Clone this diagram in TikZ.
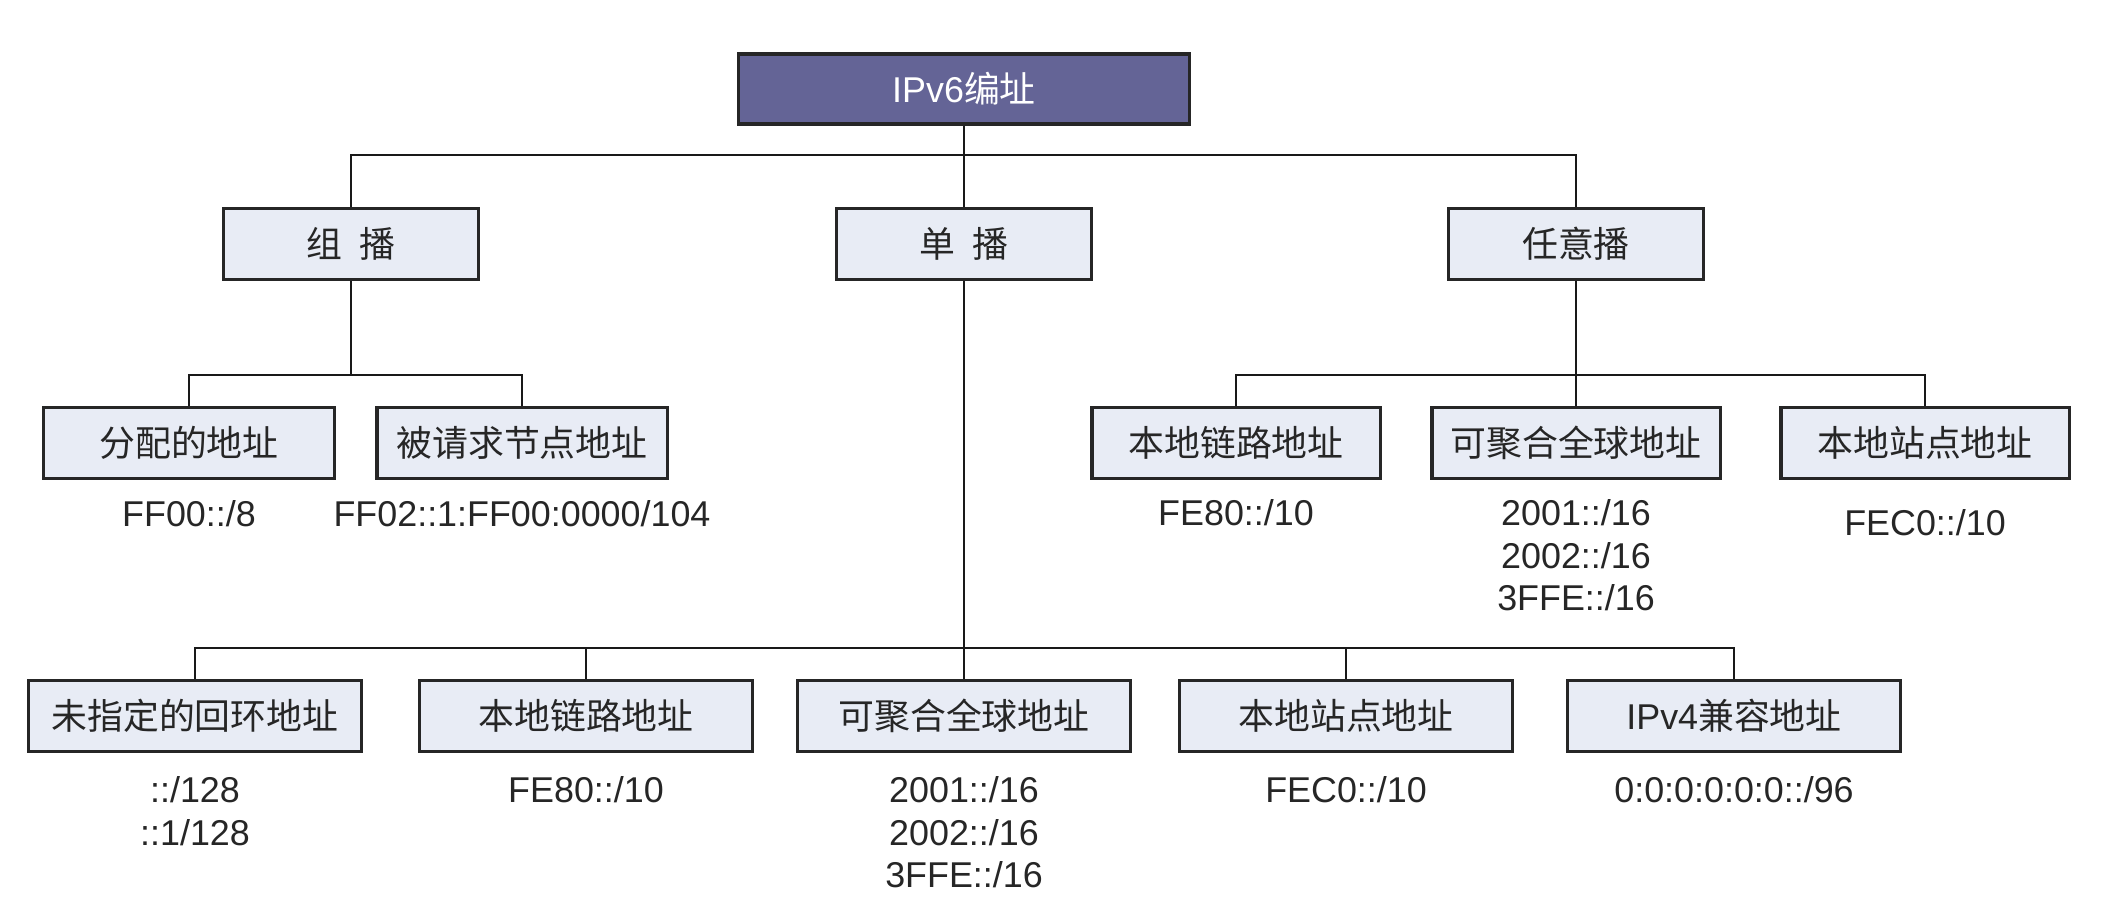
\documentclass[tikz,border=0pt]{standalone}
\usepackage{fontspec}
\setmainfont{Liberation Sans}
\newfontfamily\cjk{Noto Sans CJK SC}
\usepackage{tikz}
\usetikzlibrary{positioning}
\definecolor{v6purple}{HTML}{646496}
\definecolor{v6pale}{HTML}{E8ECF5}
\tikzset{
  v6root/.style={draw=black!85, fill=v6purple, text=white, line width=0.9pt,
    minimum width=4.5cm, minimum height=0.7cm, inner sep=0pt,
    font=\cjk\fontsize{10.2pt}{12pt}\selectfont},
  v6box/.style={draw=black!85, fill=v6pale, text=black!85, line width=0.9pt,
    minimum height=0.71cm, inner sep=0pt,
    font=\cjk\fontsize{10.2pt}{12pt}\selectfont},
  v6addr/.style={font=\fontsize{10.2pt}{12pt}\selectfont, align=center,
    inner sep=0pt, text=black!85},
  v6line/.style={line width=0.7pt, draw=black!90}
}

\begin{document}
\begin{tikzpicture}[x=0.01cm, y=-0.01cm, node distance=0.2cm]
  \useasboundingbox (0,0) rectangle (2114,918);
  \node[v6root] (ipv6) at (964,89) {{\rmfamily IPv6}编址};
  \node[v6box, minimum width=2.55cm] (multi) at (351,244) {组\enspace 播};
  \node[v6box, minimum width=2.55cm] (uni) at (964,244) {单\enspace 播};
  \node[v6box, minimum width=2.55cm] (any) at (1576,244) {任意播};

  \node[v6box, minimum width=2.9cm] (mcassign) at (189,443) {分配的地址};
  \node[v6box, minimum width=2.9cm] (mcsolicit) at (522,443) {被请求节点地址};
  \node[v6box, minimum width=2.88cm] (aclink) at (1236,443) {本地链路地址};
  \node[v6box, minimum width=2.88cm] (acglobal) at (1576,443) {可聚合全球地址};
  \node[v6box, minimum width=2.88cm] (acsite) at (1925,443) {本地站点地址};

  \node[v6box, minimum width=3.32cm] (ucunspec) at (195,716) {未指定的回环地址};
  \node[v6box, minimum width=3.32cm] (uclink) at (586,716) {本地链路地址};
  \node[v6box, minimum width=3.32cm] (ucglobal) at (964,716) {可聚合全球地址};
  \node[v6box, minimum width=3.32cm] (ucsite) at (1346,716) {本地站点地址};
  \node[v6box, minimum width=3.32cm] (ucv4) at (1734,716) {{\rmfamily IPv4}兼容地址};

  \node[v6addr, below=0.2cm of mcassign] (mcassignpfx) {FF00::/8};
  \node[v6addr, below=0.2cm of mcsolicit] (mcsolicitpfx) {FF02::1:FF00:0000/104};
  \node[v6addr, below=0.19cm of aclink] (aclinkpfx) {FE80::/10};
  \node[v6addr, below=0.19cm of acglobal] (acglobalpfx) {2001::/16\\2002::/16\\3FFE::/16};
  \node[v6addr, below=0.29cm of acsite] (acsitepfx) {FEC0::/10};

  \node[v6addr, below=0.23cm of ucunspec] (ucunspecpfx) {::/128\\::1/128};
  \node[v6addr, below=0.23cm of uclink] (uclinkpfx) {FE80::/10};
  \node[v6addr, below=0.23cm of ucglobal] (ucglobalpfx) {2001::/16\\2002::/16\\3FFE::/16};
  \node[v6addr, below=0.23cm of ucsite] (ucsitepfx) {FEC0::/10};
  \node[v6addr, below=0.23cm of ucv4] (ucv4pfx) {0:0:0:0:0:0::/96};

  \coordinate (bus0) at (0,155);
  \coordinate (bus1) at (0,375);
  \coordinate (bus2) at (0,648);
  \draw[v6line] (ipv6.south) -- (ipv6.south |- bus0) -| (multi.north);
  \draw[v6line] (ipv6.south |- bus0) -| (any.north);
  \draw[v6line] (ipv6.south) -- (uni.north);

  \draw[v6line] (multi.south) -- (multi.south |- bus1) -| (mcassign.north);
  \draw[v6line] (multi.south |- bus1) -| (mcsolicit.north);
  \draw[v6line] (any.south) -- (any.south |- bus1) -| (aclink.north);
  \draw[v6line] (any.south |- bus1) -| (acsite.north);
  \draw[v6line] (any.south) -- (acglobal.north);

  \draw[v6line] (uni.south) -- (uni.south |- bus2) -| (ucunspec.north);
  \draw[v6line] (uni.south |- bus2) -| (uclink.north);
  \draw[v6line] (uni.south |- bus2) -| (ucsite.north);
  \draw[v6line] (uni.south |- bus2) -| (ucv4.north);
  \draw[v6line] (uni.south) -- (ucglobal.north);
\end{tikzpicture}
\end{document}
